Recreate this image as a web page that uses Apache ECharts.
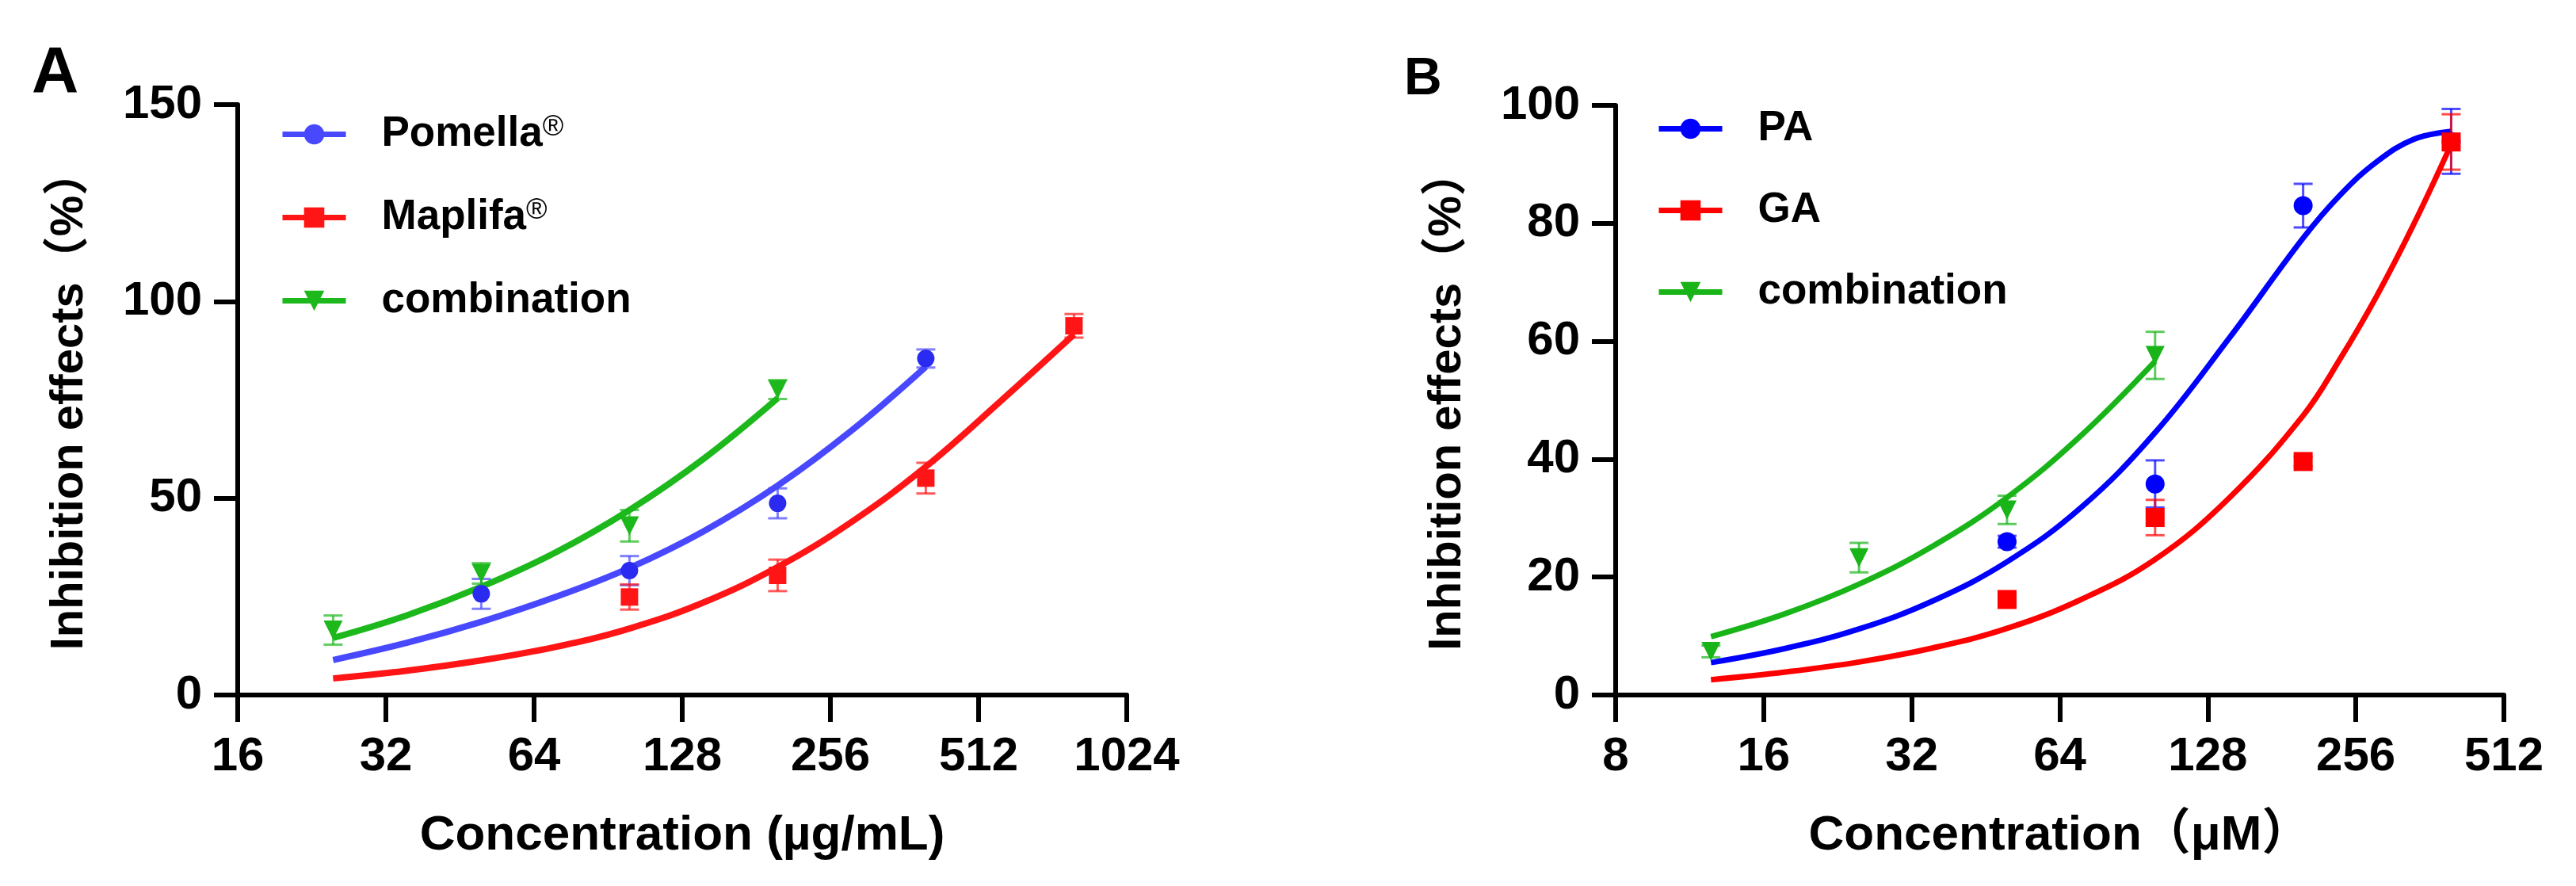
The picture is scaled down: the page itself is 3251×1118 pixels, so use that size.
<!DOCTYPE html>
<html>
<head>
<meta charset="utf-8">
<script src="https://cdn.jsdelivr.net/npm/echarts@6/dist/echarts.min.js"></script>
<style>
  html, body { margin: 0; padding: 0; background: #fff; }
  #main { width: 3251px; height: 1118px; }
</style>
</head>
<body>
<div id="main"></div>
<script>
// ---- panel A : Pomella / Maplifa (ug/mL) ----
var xTicksA = [16, 32, 64, 128, 256, 512, 1024]
var yTicksA = [0, 50, 100, 150]

var pomellaDose = [50, 100, 200, 400]
var pomellaMean = [25.7, 31.6, 48.7, 85.5]
var pomellaSd = [3.8, 3.7, 3.8, 2.3]

var maplifaDose = [100, 200, 400, 800]
var maplifaMean = [24.9, 30.4, 55.1, 93.8]
var maplifaSd = [3.2, 4.0, 3.9, 3.0]

var combADose = [25, 50, 100, 200]
var combAMean = [16.5, 30.9, 43.0, 77.6]
var combASd = [3.7, 2.6, 4.0, 2.4]

// fitted curves
var fitDoseA = [25, 35.4, 50, 70.7, 100, 141.4, 200, 282.8, 400, 565.7, 800]
var pomellaFit = [8.9, 13.3, 18.6, 24.9, 32.3, 41.6, 53.2, 67.2, 83.4]
var maplifaFit = [4.2, 6.2, 8.8, 12.2, 16.9, 23.5, 32.5, 44.0, 58.0, 74.5, 91.6]
var combAFit = [14.5, 20.3, 27.5, 36.2, 47.0, 60.0, 75.4]

// ---- panel B : PA / GA (uM) ----
var xTicksB = [8, 16, 32, 64, 128, 256, 512]
var yTicksB = [0, 20, 40, 60, 80, 100]

var paDose = [50, 100, 200, 400]
var paMean = [26.0, 35.8, 83.0, 93.9]
var paSd = [1.0, 4.0, 3.7, 5.5]

var gaDose = [50, 100, 200, 400]
var gaMean = [16.2, 30.1, 39.6, 93.8]
var gaSd = [0.8, 3.0, 0.8, 4.7]

var combBDose = [12.5, 25, 50, 100]
var combBMean = [7.4, 23.3, 31.4, 57.6]
var combBSd = [1.0, 2.5, 2.4, 4.0]

var fitDoseB = [12.5, 17.7, 25, 35.4, 50, 70.7, 100, 141.4, 200, 237.8, 282.8, 336.4, 400]
var paFit = [5.5, 7.9, 11.2, 16.0, 22.6, 31.8, 44.5, 60.5, 77.5, 84.8, 90.5, 94.3, 95.6]
var gaFit = [2.6, 3.9, 5.6, 8.0, 11.3, 16.2, 23.0, 33.4, 47.4, 57.0, 67.8, 80.0, 93.4]
var combBFit = [9.9, 13.8, 18.8, 25.3, 33.5, 44.0, 56.6]

var FONT = '"Liberation Sans", Arial, "Noto Sans CJK SC", sans-serif'
var TRI = 'path://M0,0 L10,0 L5,9 Z'

function pairs(xs, ys) {
  var out = []
  for (var i = 0; i < ys.length; i++) out.push([xs[i], ys[i]])
  return out
}

function bars(xs, ys, sd) {
  var out = []
  for (var i = 0; i < ys.length; i++) out.push([xs[i], ys[i] - sd[i], ys[i] + sd[i]])
  return out
}

function errorBar(params, api) {
  var x = api.value(0)
  var top = api.coord([x, api.value(2)])
  var bot = api.coord([x, api.value(1)])
  var hw = 12
  var style = { stroke: api.visual('color'), lineWidth: 3, opacity: 0.7 }
  return {
    type: 'group',
    children: [
      { type: 'line', shape: { x1: top[0], y1: top[1], x2: bot[0], y2: bot[1] }, style: style },
      { type: 'line', shape: { x1: top[0] - hw, y1: top[1], x2: top[0] + hw, y2: top[1] }, style: style },
      { type: 'line', shape: { x1: bot[0] - hw, y1: bot[1], x2: bot[0] + hw, y2: bot[1] }, style: style }
    ]
  }
}

function curve(name, idx, xs, ys, color, symbol, width) {
  return {
    name: name,
    type: 'line',
    xAxisIndex: idx,
    yAxisIndex: idx,
    data: pairs(xs, ys),
    smooth: 0.4,
    showSymbol: false,
    symbol: symbol,
    color: color,
    lineStyle: { width: width, color: color },
    itemStyle: { color: color },
    silent: true,
    z: 2
  }
}

function errSeries(idx, xs, ys, sd, color) {
  return {
    type: 'custom',
    xAxisIndex: idx,
    yAxisIndex: idx,
    data: bars(xs, ys, sd),
    renderItem: errorBar,
    itemStyle: { color: color },
    silent: true,
    z: 3
  }
}

function dots(idx, xs, ys, color, symbol, size) {
  return {
    type: 'scatter',
    xAxisIndex: idx,
    yAxisIndex: idx,
    data: pairs(xs, ys),
    symbol: symbol,
    symbolSize: size,
    itemStyle: { color: color, opacity: 1 },
    silent: true,
    z: 4
  }
}

function xAxisOf(idx, ticks, title) {
  return {
    type: 'log',
    logBase: 2,
    gridIndex: idx,
    min: ticks[0],
    max: ticks[ticks.length - 1],
    splitNumber: ticks.length - 1,
    name: title,
    nameLocation: 'middle',
    nameGap: 147,
    nameTextStyle: { fontSize: 62, fontWeight: 'bold', color: '#000', fontFamily: FONT },
    axisLine: { onZero: false, lineStyle: { color: '#000', width: 6 } },
    axisTick: { length: 34, lineStyle: { color: '#000', width: 6 } },
    axisLabel: {
      margin: 48, fontSize: 60, fontWeight: 'bold', color: '#000', fontFamily: FONT,
      formatter: function (v) { return String(Math.round(v)) }
    },
    splitLine: { show: false },
    minorTick: { show: false }
  }
}

function yAxisOf(idx, ticks) {
  return {
    type: 'value',
    gridIndex: idx,
    min: ticks[0],
    max: ticks[ticks.length - 1],
    interval: ticks[1] - ticks[0],
    name: 'Inhibition effects（%）',
    nameLocation: 'middle',
    nameGap: 183,
    nameTextStyle: { fontSize: 58, fontWeight: 'bold', color: '#000', fontFamily: FONT },
    axisLine: { onZero: false, lineStyle: { color: '#000', width: 6 } },
    axisTick: { length: 30, lineStyle: { color: '#000', width: 6 } },
    axisLabel: { margin: 45, fontSize: 60, fontWeight: 'bold', color: '#000', fontFamily: FONT },
    splitLine: { show: false }
  }
}

function legendOf(names, left, top, gap) {
  return {
    data: names,
    orient: 'vertical',
    left: left,
    top: top,
    itemWidth: 80,
    itemHeight: 32,
    itemGap: gap,
    selectedMode: false,
    lineStyle: { width: 7 },
    formatter: function (n) {
      if (n.indexOf('®') >= 0) return '{a|' + n.replace('®', '') + '}{s|®}'
      return '{a|' + n.replace(' B', '') + '}'
    },
    textStyle: {
      color: '#000',
      rich: {
        a: { fontSize: 53, fontWeight: 'bold', fontFamily: FONT, color: '#000', padding: [0, 0, 0, 40] },
        s: { fontSize: 36, fontFamily: FONT, color: '#000', verticalAlign: 'top' }
      }
    }
  }
}

var blueA = '#4848ff', redA = '#ff1515', greenA = '#1cb81c'
var blueB = '#0000ff', redB = '#ff0000', greenB = '#18b418'

var chart = echarts.init(document.getElementById('main'), null, { renderer: 'canvas' })

var option = {
  backgroundColor: '#fff',
  animation: false,
  grid: [
    { left: 300, top: 132, width: 1122, height: 745 },
    { left: 2039, top: 133, width: 1121, height: 744 }
  ],
  xAxis: [
    xAxisOf(0, xTicksA, 'Concentration (µg/mL)'),
    xAxisOf(1, xTicksB, 'Concentration（μM）')
  ],
  yAxis: [yAxisOf(0, yTicksA), yAxisOf(1, yTicksB)],
  legend: [
    legendOf(['Pomella®', 'Maplifa®', 'combination'], 348, 138, 52),
    legendOf(['PA', 'GA', 'combination B'], 2085, 131, 50)
  ],
  graphic: [
    { type: 'text', left: 40, top: 52, style: { text: 'A', font: 'bold 82px ' + FONT, fill: '#000' } },
    { type: 'text', left: 1772, top: 68, style: { text: 'B', font: 'bold 66px ' + FONT, fill: '#000' } }
  ],
  series: [
    curve('Pomella®', 0, fitDoseA, pomellaFit, blueA, 'circle', 8),
    curve('Maplifa®', 0, fitDoseA, maplifaFit, redA, 'rect', 8),
    curve('combination', 0, fitDoseA, combAFit, greenA, TRI, 8),
    errSeries(0, pomellaDose, pomellaMean, pomellaSd, blueA),
    errSeries(0, maplifaDose, maplifaMean, maplifaSd, redA),
    errSeries(0, combADose, combAMean, combASd, greenA),
    dots(0, pomellaDose, pomellaMean, '#2a2af0', 'circle', 22),
    dots(0, maplifaDose, maplifaMean, redA, 'rect', 22),
    dots(0, combADose, combAMean, greenA, TRI, 24),

    curve('PA', 1, fitDoseB, paFit, blueB, 'circle', 7),
    curve('GA', 1, fitDoseB, gaFit, redB, 'rect', 7),
    curve('combination B', 1, fitDoseB, combBFit, greenB, TRI, 7),
    errSeries(1, paDose, paMean, paSd, blueB),
    errSeries(1, gaDose, gaMean, gaSd, redB),
    errSeries(1, combBDose, combBMean, combBSd, greenB),
    dots(1, paDose, paMean, blueB, 'circle', 24),
    dots(1, gaDose, gaMean, redB, 'rect', 24),
    dots(1, combBDose, combBMean, greenB, TRI, 24)
  ]
}

chart.setOption(option)
</script>
</body>
</html>
